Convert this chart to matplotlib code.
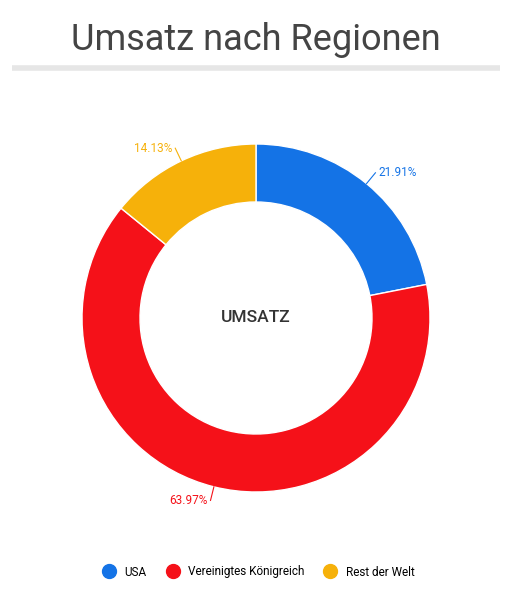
import matplotlib
matplotlib.use("Agg")
import matplotlib.pyplot as plt
import numpy as np
from matplotlib.lines import Line2D

categories = ["USA", "Vereinigtes Königreich", "Rest der Welt"]
values = [21.91, 63.97, 14.13]
colors = ["#1473e6", "#f51119", "#f6b10a"]
title = "Umsatz nach Regionen"
center_label = "UMSATZ"

plt.rcParams['font.family'] = ['Roboto', 'DejaVu Sans']
fig = plt.figure(figsize=(5.12, 6.04), dpi=100)
ax = fig.add_axes([0, 0, 1, 1])
ax.set_xlim(0, 512); ax.set_ylim(0, 604); ax.set_aspect('equal'); ax.axis('off')

cx, cy, R, W = 256, 286, 174, 58
wedges, _ = ax.pie(values, colors=colors, startangle=90, counterclock=False,
                   center=(cx, cy), radius=R, frame=True,
                   wedgeprops=dict(width=W, edgecolor='white', linewidth=1))
ax.set_xlim(0, 512); ax.set_ylim(0, 604); ax.axis('off')

total = sum(values)
start = 90
for v, c in zip(values, colors):
    ang = start - v / total * 360 / 2
    start -= v / total * 360
    a = np.deg2rad(ang)
    x0, y0 = cx + R * np.cos(a), cy + R * np.sin(a)
    x1, y1 = cx + (R + 14) * np.cos(a), cy + (R + 14) * np.sin(a)
    ax.plot([x0, x1], [y0, y1], color=c, lw=0.8)
    ha = 'left' if np.cos(a) > 0 else 'right'
    ax.text(x1 + (3 if ha == 'left' else -3), y1, f"{v:.2f}%", color=c,
            fontsize=8.5, ha=ha, va='center')

ax.text(cx, cy, center_label, ha='center', va='center', fontsize=12.5,
        color='#333333', fontweight='medium')
fig.text(0.5, 1 - 40 / 604, title, ha='center', va='center', fontsize=26, color='#444444')
ax.plot([12, 500], [604 - 68, 604 - 68], color='#e6e6e6', lw=4, solid_capstyle='butt')

handles = [Line2D([], [], marker='o', ls='', markersize=10, color=c) for c in colors]
fig.legend(handles, categories, loc='center', bbox_to_anchor=(0.5, 1 - 572 / 604),
           ncol=3, frameon=False, fontsize=8.5, handletextpad=0.3, columnspacing=1.2)
fig.savefig("out.png", dpi=100)
